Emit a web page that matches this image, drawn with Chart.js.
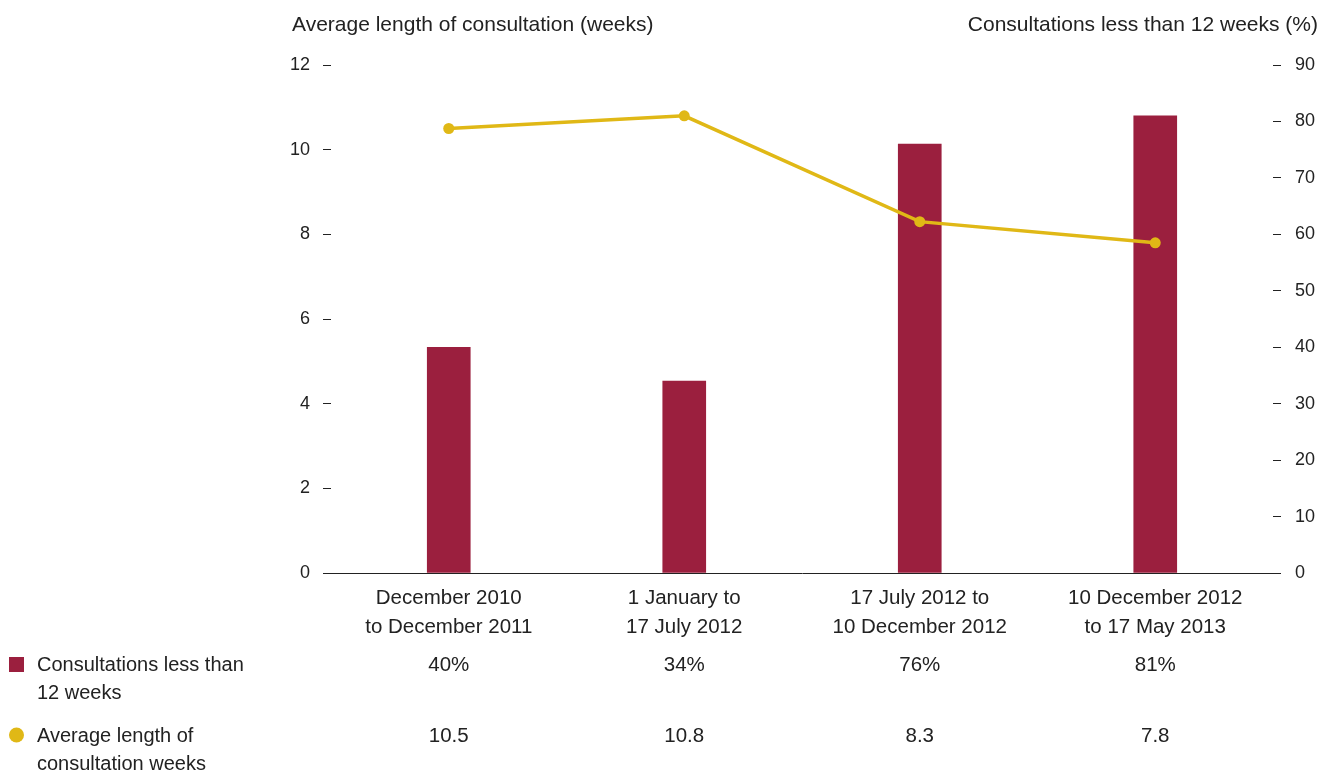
<!DOCTYPE html>
<html>
<head>
    <title>Consultations chart</title>
    <script src="https://cdn.jsdelivr.net/npm/chart.js@4"></script>
    <style>
        html, body { margin: 0; padding: 0; background: #fff; }
        .wrap { width: 1320px; height: 774px; }
    </style>
</head>
<body>
<div class="wrap">
    <canvas id="chart" width="1320" height="774"></canvas>
</div>

<script>
    // data
    const periods = [
        ['December 2010', 'to December 2011'],
        ['1 January to', '17 July 2012'],
        ['17 July 2012 to', '10 December 2012'],
        ['10 December 2012', 'to 17 May 2013']
    ];
    const lessThan12 = [40, 34, 76, 81];          // % , right axis
    const avgLength = [10.5, 10.8, 8.3, 7.8];     // weeks, left axis
    const leftTitle = 'Average length of consultation (weeks)';
    const rightTitle = 'Consultations less than 12 weeks (%)';
    const barLegend = ['Consultations less than', '12 weeks'];
    const lineLegend = ['Average length of', 'consultation weeks'];

    const barColor = '#9b1f3e';
    const lineColor = '#e0b816';
    const textColor = '#222';
    const font = '"Liberation Sans", Arial, sans-serif';

    const extras = {
        id: 'extras',
        afterDraw(chart) {
            const c = chart.ctx;
            const x = chart.scales.x;
            c.save();
            c.fillStyle = textColor;
            c.textBaseline = 'middle';

            // axis titles
            c.font = '21px ' + font;
            c.textAlign = 'left';
            c.fillText(leftTitle, 292, 25);
            c.textAlign = 'right';
            c.fillText(rightTitle, 1318, 25);

            // value rows
            c.font = '20.5px ' + font;
            c.textAlign = 'center';
            for (let i = 0; i < periods.length; i++) {
                const px = x.getPixelForValue(i);
                c.fillText(lessThan12[i] + '%', px, 665);
                c.fillText(avgLength[i].toFixed(1), px, 736);
            }

            // legend
            c.font = '20px ' + font;
            c.textAlign = 'left';
            c.fillText(barLegend[0], 37, 665);
            c.fillText(barLegend[1], 37, 693);
            c.fillText(lineLegend[0], 37, 736);
            c.fillText(lineLegend[1], 37, 764);
            c.fillStyle = barColor;
            c.fillRect(9, 657, 15, 15);
            c.fillStyle = lineColor;
            c.beginPath();
            c.arc(16.5, 735, 7.5, 0, Math.PI * 2);
            c.fill();
            c.restore();
        }
    };

    const ctx = document.getElementById('chart').getContext('2d');
    const chart = new Chart(ctx, {
        type: 'bar',
        data: {
            labels: periods,
            datasets: [{
                type: 'line',
                label: 'Average length of consultation weeks',
                data: avgLength,
                yAxisID: 'yLeft',
                borderColor: lineColor,
                backgroundColor: lineColor,
                borderWidth: 3.5,
                pointRadius: 5.5,
                pointBorderWidth: 0,
                tension: 0,
                order: 0
            }, {
                type: 'bar',
                label: 'Consultations less than 12 weeks',
                data: lessThan12,
                yAxisID: 'yRight',
                backgroundColor: barColor,
                barThickness: 43,
                order: 1
            }]
        },
        options: {
            responsive: false,
            animation: false,
            layout: { padding: { top: 65, left: 0, right: 0, bottom: 0 } },
            plugins: {
                legend: { display: false },
                tooltip: { enabled: false }
            },
            scales: {
                x: {
                    grid: { display: false, drawTicks: false },
                    border: { display: true, color: '#222', width: 1 },
                    ticks: {
                        color: textColor,
                        font: { family: font, size: 20.5, lineHeight: 1.42 },
                        padding: 11,
                        maxRotation: 0,
                        autoSkip: false
                    },
                    afterFit(s) { s.height = 201; }
                },
                yLeft: {
                    position: 'left',
                    min: 0,
                    max: 12,
                    grid: { drawOnChartArea: false, drawTicks: true, tickLength: 8, color: '#222' },
                    border: { display: false },
                    ticks: {
                        stepSize: 2,
                        color: textColor,
                        padding: 13,
                        font: { family: font, size: 18 }
                    },
                    afterFit(s) { s.width = 331; }
                },
                yRight: {
                    position: 'right',
                    min: 0,
                    max: 90,
                    grid: { drawOnChartArea: false, drawTicks: true, tickLength: 8, color: '#222' },
                    border: { display: false },
                    ticks: {
                        stepSize: 10,
                        color: textColor,
                        padding: 14,
                        font: { family: font, size: 18 }
                    },
                    afterFit(s) { s.width = 47; }
                }
            }
        },
        plugins: [extras]
    });
</script>
</body>
</html>
